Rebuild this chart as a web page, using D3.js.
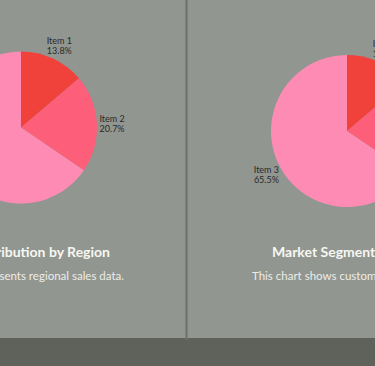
<!DOCTYPE html>
<html><head><meta charset="utf-8">
<script src="https://cdn.jsdelivr.net/npm/d3@7"></script>
<style>html,body{margin:0;padding:0;overflow:hidden;background:#929690}</style>
</head><body>
<svg id="c" width="375" height="366"></svg>
<script>
const categories = ["Item 1", "Item 2", "Item 3"];
const regionValues = [13.8, 20.7, 65.5];
const segmentValues = [13.8, 20.7, 65.5];
const colors = ["#f0413a", "#fd5e79", "#fd8bb4"];
const titles = ["Sales Distribution by Region", "Market Segmentation"];
const subtitles = ["This chart represents regional sales data.", "This chart shows customer segments."];

const svg = d3.select("#c");
svg.append("rect").attr("width",375).attr("height",366).attr("fill","#929690");
svg.append("rect").attr("y",338).attr("width",375).attr("height",28).attr("fill","#5e625b");
svg.append("rect").attr("x",185.5).attr("y",0).attr("width",2).attr("height",340).attr("fill","#6b7069");

const color = d3.scaleOrdinal().domain(categories).range(colors);
const r = 76;
const arc = d3.arc().innerRadius(0).outerRadius(r);
const labelArc = d3.arc().innerRadius(r*1.2).outerRadius(r*1.2);
const pie = d3.pie().sort(null).value(d => d.v);

const panels = [
  {vals: regionValues, cx: 21, cy: 127.5, title: titles[0], sub: subtitles[0], tx: 110, sx: 124, anchor: "end"},
  {vals: segmentValues, cx: 347, cy: 131, title: titles[1], sub: subtitles[1], tx: 272, sx: 252, anchor: "start"}
];

panels.forEach(p => {
  const data = categories.map((c,i) => ({c, v: p.vals[i]}));
  const total = d3.sum(p.vals);
  const g = svg.append("g").attr("transform", `translate(${p.cx},${p.cy})`);
  const arcs = pie(data);
  g.selectAll("path").data(arcs).join("path")
    .attr("d", arc).attr("fill", d => color(d.data.c));
  const t = g.selectAll("text").data(arcs).join("text")
    .attr("transform", d => `translate(${labelArc.centroid(d)})`)
    .attr("text-anchor","middle")
    .attr("font-family","Lato, 'DejaVu Sans', sans-serif")
    .attr("font-size","9px").attr("fill","#2a2a2a");
  t.append("tspan").attr("x",0).attr("dy","-0.1em").text(d => d.data.c);
  t.append("tspan").attr("x",0).attr("dy","1.1em").text(d => (d.data.v/total*100).toFixed(1)+"%");

  svg.append("text").attr("x", p.tx).attr("y", 257).attr("text-anchor", p.anchor)
    .attr("font-family","Lato, sans-serif").attr("font-weight","700")
    .attr("font-size","14px").attr("fill","#f7f7f2").text(p.title);
  svg.append("text").attr("x", p.sx).attr("y", 280).attr("text-anchor", p.anchor)
    .attr("font-family","Lato, sans-serif").attr("font-size","11.5px")
    .attr("fill","#ecece6").text(p.sub);
});
</script>
</body></html>
